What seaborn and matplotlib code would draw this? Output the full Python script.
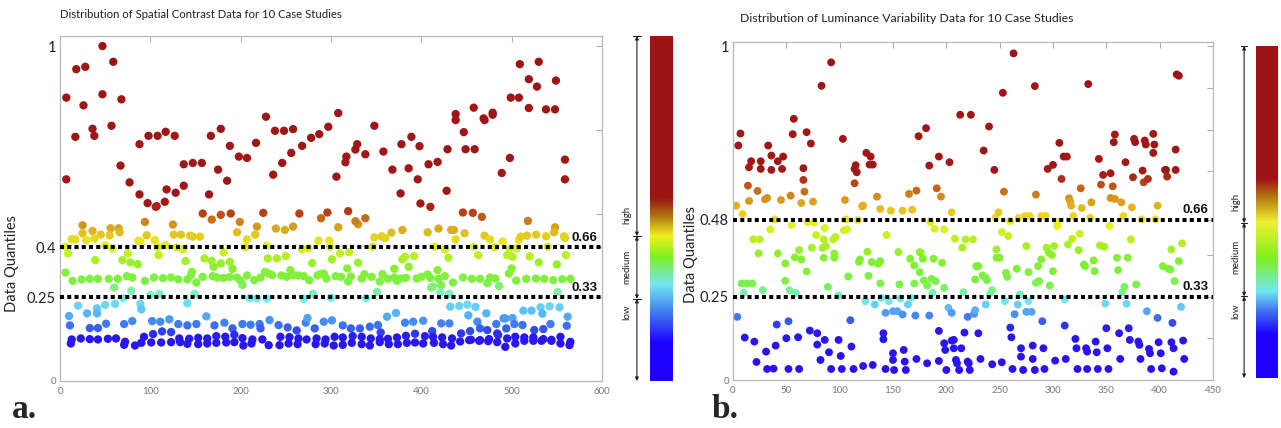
import matplotlib
matplotlib.use("Agg")
import matplotlib.pyplot as plt
import numpy as np
import pandas as pd
import seaborn as sns
from matplotlib.colors import LinearSegmentedColormap

# ---------------- DATA : panel a (Spatial Contrast) ----------------
a_high = [(7,.846),(7,.602),(17,.729),(18,.931),(26,.823),(28,.938),(36,.753),(38,.732),(47,1.0),(47,.856),
          (57,.762),(59,.953),(67,.643),(68,.841),(77,.593),(88,.707),(88,.557),(97,.531),(98,.732),(106,.520),
          (107,.522),(108,.732),(116,.535),(117,.744),(118,.572),(127,.732),(128,.562),(137,.647),(137,.583),
          (147,.651),(157,.651),(165,.557),(167,.732),(175,.631),(178,.753),(185,.598),(188,.702),(198,.670),
          (207,.666),(217,.711),(228,.789),(236,.616),(238,.747),(246,.651),(248,.747),(256,.681),(258,.752),
          (268,.702),(278,.726),(287,.737),(297,.759),(306,.610),(308,.800),(316,.653),(317,.670),(327,.691),
          (329,.707),(338,.677),(348,.762),(358,.685),(368,.631),(377,.560),(378,.707),(386,.635),(389,.729),
          (396,.602),(398,.701),(399,.530),(408,.647),(410,.520),(418,.654),(428,.568),(429,.692),(438,.797),
          (438,.779),(447,.743),(449,.692),(458,.816),(459,.692),(469,.784),(470,.779),(479,.801),(479,.795),
          (489,.621),(498,.666),(499,.846),(508,.846),(509,.946),(519,.901),(519,.815),(528,.879),(530,.953),
          (538,.811),(548,.811),(549,.897),(559,.661),(559,.602)]
a_upper = [(94,.475),(125,.467),(158,.500),(168,.482),(178,.496),(189,.500),(199,.475),(225,.502),(265,.500),
           (289,.486),(296,.503),(319,.507),(330,.468),(338,.486),(446,.503),(457,.502),(467,.490),(518,.478),
           (548,.459),(433,.451),(379,.451),(327,.477),(25,.465),(218,.461),(258,.461),(308,.459),(239,.455),
           (249,.451),(56,.456),(65,.456),(419,.455),
           (13,.423),(17,.423),(25,.441),(29,.421),(36,.448),(38,.425),(45,.437),(55,.435),(66,.444),(87,.419),
           (89,.417),(96,.435),(105,.421),(117,.406),(126,.437),(134,.437),(144,.434),(147,.431),(155,.431),
           (196,.444),(207,.423),(216,.437),(286,.419),(298,.419),(348,.429),(356,.432),(360,.427),(367,.443),
           (407,.444),(436,.451),(438,.423),(448,.441),(470,.434),(476,.423),(490,.417),(508,.421),(510,.431),
           (517,.434),(527,.437),(538,.432),(547,.444),(558,.432),(559,.427),
           (6,.401),(9,.381),(50,.405),(58,.396),(108,.399),(116,.404),(129,.399),(136,.393),(205,.399),
           (229,.404),(268,.393),(275,.396),(299,.401),(346,.401),(415,.401),(426,.393),(458,.401),(481,.399),
           (498,.393),(506,.396),(540,.401),(495,.376),(501,.371)]
a_medium = [(39,.361),(69,.361),(75,.381),(78,.354),(86,.349),(109,.376),(139,.358),(160,.366),(168,.359),
            (170,.341),(178,.351),(181,.384),(188,.356),(191,.335),(230,.366),(240,.366),(250,.373),(279,.352),
            (301,.363),(310,.381),(320,.384),(318,.336),(330,.353),(370,.335),(379,.363),(382,.371),(392,.373),
            (386,.341),(418,.331),(430,.368),(463,.376),(500,.336),(520,.372),(530,.354),(550,.348),(560,.376),
            (6,.324),(14,.299),(24,.303),(33,.305),(42,.305),(54,.305),(64,.305),(74,.313),(80,.309),(94,.299),
            (104,.309),(114,.307),(123,.309),(131,.303),(141,.303),(145,.316),(146,.326),(151,.294),(158,.311),
            (169,.313),(174,.309),(181,.308),(188,.311),(196,.309),(200,.299),(202,.287),(207,.315),(215,.301),
            (222,.309),(227,.326),(231,.321),(235,.316),(245,.315),(251,.311),(255,.331),(258,.316),(264,.315),
            (270,.313),(276,.301),(285,.315),(288,.319),(292,.321),(295,.306),(305,.313),(311,.311),(319,.297),
            (322,.312),(334,.306),(337,.319),(345,.311),(354,.297),(357,.319),(363,.305),(370,.309),(373,.299),
            (377,.306),(383,.308),(395,.306),(400,.311),(407,.318),(410,.308),(413,.282),(419,.305),(422,.286),
            (426,.313),(435,.294),(446,.309),(456,.305),(465,.305),(473,.292),(476,.309),(482,.306),(486,.284),
            (497,.321),(505,.300),(516,.305),(527,.306),(536,.305),(546,.301),(556,.304),(565,.305),
            (60,.279),(79,.269),(100,.257),(110,.260),(149,.260),(280,.260),(411,.279),(421,.264),(431,.260),
            (551,.266)]
a_low = [(10,.194),(20,.225),(30,.202),(41,.217),(41,.202),(50,.227),(61,.230),(70,.247),(89,.230),(90,.214),
         (141,.232),(210,.247),(218,.247),(229,.246),(270,.245),(300,.249),(339,.247),(351,.266),(362,.192),
         (372,.203),(432,.222),(442,.224),(451,.228),(452,.196),(460,.221),(472,.202),(491,.187),(501,.188),
         (513,.210),(522,.210),(532,.220),(534,.201),(542,.223),(553,.220),(562,.192),
         (11,.166),(33,.158),(42,.158),(51,.171),(71,.170),(80,.179),(102,.179),(111,.177),(121,.184),(131,.170),
         (141,.166),(151,.170),(162,.193),(171,.166),(182,.174),(191,.157),(202,.170),(211,.168),(221,.170),
         (222,.157),(232,.182),(242,.167),(252,.160),(262,.151),(272,.174),(274,.188),(282,.157),(292,.177),
         (301,.181),(313,.166),(322,.157),(332,.157),(343,.162),(352,.167),(355,.145),(382,.174),(391,.177),
         (402,.180),(412,.149),(422,.172),(431,.172),(444,.142),(454,.149),(462,.177),(465,.157),(473,.152),
         (483,.170),(484,.142),(493,.187),(494,.157),(503,.170),(512,.167),(525,.152),(535,.155),(543,.170),
         (561,.165),
         (13,.124),(23,.127),(33,.125),(42,.124),(53,.126),(62,.127),(72,.117),(93,.132),(103,.140),(113,.148),
         (123,.146),(132,.127),(143,.126),(153,.129),(163,.127),(173,.134),(183,.132),(193,.138),(202,.128),
         (213,.124),(224,.124),(244,.132),(254,.131),(264,.127),(273,.124),(284,.127),(294,.124),(304,.132),
         (313,.130),(324,.134),(334,.132),(344,.127),(354,.125),(363,.126),(373,.130),(383,.135),(393,.141),
         (404,.134),(413,.132),(423,.130),(434,.127),(455,.123),(465,.122),(475,.125),(485,.137),(495,.127),
         (504,.132),(514,.130),(524,.130),(535,.125),(544,.123),(554,.132),
         (12,.112),(71,.108),(83,.106),(90,.114),(101,.115),(112,.115),(123,.116),(133,.116),(141,.111),
         (153,.110),(163,.112),(173,.114),(184,.115),(193,.116),(203,.106),(212,.112),(231,.107),(243,.107),
         (253,.112),(263,.110),(283,.110),(293,.112),(303,.106),(313,.108),(323,.114),(334,.110),(343,.106),
         (354,.116),(364,.110),(374,.110),(384,.114),(393,.115),(402,.112),(414,.114),(424,.110),(433,.106),
         (443,.118),(453,.122),(464,.120),(474,.119),(484,.116),(493,.102),(504,.112),(514,.120),(524,.120),
         (533,.120),(544,.120),(554,.112),(564,.107),(565,.117)]

# ---------------- DATA : panel b (Luminance Variability) ----------------
b_points = [(3,.522),(4,.189),(5,.702),(7,.738),(9,.497),(10,.261),(8,.289),(11,.127),(14,.582),(13,.289),
    (15,.637),(17,.655),(15,.536),(18,.289),(19,.421),(20,.115),(22,.054),(24,.379),(25,.421),(26,.655),
    (26,.632),(23,.566),(28,.269),(30,.541),(31,.085),(32,.033),(32,.545),(33,.702),(35,.451),(36,.672),
    (36,.629),(38,.034),(40,.103),(39,.481),(41,.166),(42,.379),(42,.655),(45,.539),(46,.632),(47,.669),
    (49,.297),(49,.349),(50,.125),(52,.176),(52,.033),(53,.269),(54,.552),(55,.464),(56,.736),(57,.782),
    (58,.367),(59,.261),(61,.128),(62,.033),(62,.389),(64,.361),(64,.530),(66,.634),(66,.599),(67,.564),
    (69,.742),(69,.325),(70,.473),(72,.148),(73,.708),(74,.396),(75,.534),(76,.471),(78,.434),(79,.140),
    (79,.106),(82,.060),(83,.881),(84,.396),(85,.366),(85,.421),(86,.455),(86,.120),(87,.401),(89,.279),
    (90,.083),(92,.033),(92,.951),(94,.421),(95,.379),(95,.366),(96,.428),(99,.253),(99,.120),(101,.072),
    (102,.033),(103,.722),(104,.448),(105,.539),(106,.481),(107,.451),(108,.310),(110,.179),(111,.100),
    (113,.033),(114,.589),(114,.632),(116,.622),(115,.643),(117,.479),(118,.354),(119,.361),(121,.520),
    (122,.522),(122,.042),(124,.236),(125,.680),(126,.384),(127,.312),(128,.645),(129,.669),(130,.353),
    (131,.645),(131,.045),(133,.226),(135,.549),(136,.348),(138,.289),(138,.356),(138,.512),(139,.246),
    (141,.140),(141,.122),(143,.201),(143,.033),(144,.434),(146,.236),(148,.507),(150,.080),(150,.206),
    (150,.060),(151,.030),(154,.206),(155,.383),(156,.286),(157,.244),(159,.507),(159,.196),(160,.090),
    (161,.055),(162,.030),(164,.226),(165,.557),(166,.363),(167,.246),(168,.510),(170,.289),(170,.343),
    (171,.193),(172,.063),(172,.567),(174,.730),(175,.383),(175,.323),(176,.381),(178,.363),(179,.298),
    (181,.754),(182,.283),(182,.050),(184,.193),(184,.642),(185,.473),(186,.303),(187,.261),(188,.363),
    (189,.453),(190,.296),(191,.574),(193,.669),(193,.147),(193,.057),(195,.549),(196,.351),(198,.451),
    (198,.276),(198,.110),(199,.090),(200,.030),(202,.216),(203,.652),(205,.502),(205,.118),(205,.201),
    (207,.095),(207,.120),(208,.423),(209,.060),(210,.050),(212,.030),(213,.794),(214,.095),(215,.396),
    (216,.263),(217,.142),(218,.421),(220,.189),(220,.055),(221,.050),(222,.030),(223,.794),(225,.421),
    (226,.198),(227,.301),(227,.209),(228,.341),(230,.341),(230,.140),(232,.063),(234,.313),(235,.687),
    (237,.306),(237,.226),(238,.299),(240,.759),(241,.259),(243,.047),(243,.269),(245,.629),(246,.486),
    (247,.366),(247,.391),(249,.502),(250,.366),(252,.443),(252,.053),(253,.860),(254,.564),(255,.236),
    (256,.321),(257,.309),(258,.431),(260,.476),(261,.128),(260,.157),(262,.033),(263,.978),(264,.197),
    (266,.333),(267,.226),(268,.486),(269,.256),(270,.095),(270,.070),(272,.030),(274,.491),(275,.204),
    (275,.401),(277,.323),(277,.236),(278,.491),(280,.204),(281,.103),(281,.063),(283,.880),(283,.030),
    (284,.555),(284,.291),(286,.341),(287,.296),(289,.491),(289,.361),(290,.176),(291,.095),(292,.033),
    (293,.491),(294,.396),(295,.632),(296,.381),(297,.283),(299,.374),(300,.326),(300,.644),(301,.401),
    (302,.058),(304,.473),(304,.461),(306,.710),(308,.602),(310,.669),(311,.241),(311,.163),(312,.063),
    (313,.669),(314,.406),(315,.544),(316,.535),(317,.522),(318,.423),(319,.491),(321,.123),(322,.095),
    (323,.033),(324,.389),(325,.438),(326,.574),(327,.515),(329,.346),(330,.341),(331,.095),(332,.085),
    (332,.033),(333,.886),(335,.486),(336,.532),(338,.358),(339,.326),(340,.115),(341,.083),(342,.033),
    (343,.662),(344,.403),(345,.585),(347,.614),(348,.399),(349,.229),(350,.155),(351,.095),(352,.033),
    (353,.461),(354,.545),(354,.619),(356,.580),(357,.712),(358,.735),(358,.542),(360,.366),(361,.329),
    (362,.140),(363,.063),(364,.532),(365,.263),(366,.491),(367,.279),(368,.652),(369,.228),(370,.366),
    (371,.155),(372,.120),(373,.421),(374,.517),(375,.607),(376,.722),(377,.712),(378,.286),(380,.115),
    (381,.105),(382,.063),(383,.481),(384,.627),(385,.592),(386,.717),(387,.705),(388,.206),(389,.602),
    (390,.093),(391,.080),(392,.033),(394,.680),(394,.737),(395,.705),(396,.481),(398,.186),(398,.522),
    (399,.113),(401,.080),(402,.035),(403,.341),(405,.629),(406,.629),(407,.609),(408,.333),(410,.331),
    (411,.391),(411,.113),(412,.171),(413,.095),(413,.025),(414,.296),(415,.629),(415,.690),(416,.915),
    (418,.911),(418,.356),(420,.219),(421,.409),(422,.118),(423,.063)]

# thresholds, ticks, texts
a_thresholds = [0.25, 0.40]
b_thresholds = [0.25, 0.48]
threshold_labels = ["0.33", "0.66"]
a_yticks, a_yticklabels = [0, 0.25, 0.4, 1], ["0", "0.25", "0.4", "1"]
b_yticks, b_yticklabels = [0, 0.25, 0.48, 1], ["0", "0.25", "0.48", "1"]
a_title = "Distribution of Spatial Contrast Data for 10 Case Studies"
b_title = "Distribution of Luminance Variability Data for 10 Case Studies"
class_labels = ["low", "medium", "high"]

# ---------------- STYLE ----------------
sns.set_style("white")
plt.rcParams["font.family"] = ["Lato", "DejaVu Sans"]

a_cmap = LinearSegmentedColormap.from_list("a_pts", [
    (0.00, "#2810f0"), (0.13, "#2818f0"), (0.16, "#3868f0"), (0.19, "#50a8f8"), (0.22, "#66d0f8"),
    (0.245, "#72eef0"), (0.27, "#80f0a0"), (0.29, "#7cf048"), (0.34, "#88f030"), (0.38, "#c0f020"),
    (0.41, "#eaf020"), (0.44, "#e0c020"), (0.47, "#d0901c"), (0.50, "#b84418"), (0.53, "#a01818"),
    (1.00, "#9c1414")])
b_cmap = LinearSegmentedColormap.from_list("b_pts", [
    (0.00, "#2810f0"), (0.15, "#2818f0"), (0.185, "#3e70f0"), (0.21, "#5cb4f8"), (0.235, "#72e6f4"),
    (0.26, "#78f0b0"), (0.28, "#7cf050"), (0.36, "#80f030"), (0.42, "#b8f020"), (0.47, "#eaf020"),
    (0.51, "#e8c020"), (0.55, "#d08a1c"), (0.59, "#b84418"), (0.62, "#a01818"), (1.00, "#9c1414")])
a_bar = LinearSegmentedColormap.from_list("a_bar", [
    (0.00, "#1c00ff"), (0.11, "#1c00ff"), (0.20, "#4080f0"), (0.28, "#70e8f0"), (0.36, "#80f020"),
    (0.42, "#f0f020"), (0.48, "#b07010"), (0.53, "#9e1414"), (1.00, "#9e1414")])
b_bar = LinearSegmentedColormap.from_list("b_bar", [
    (0.00, "#1c00ff"), (0.13, "#1c00ff"), (0.20, "#4070f0"), (0.26, "#70e8f0"), (0.36, "#80f020"),
    (0.47, "#f0f030"), (0.55, "#b07010"), (0.60, "#9e1414"), (1.00, "#9e1414")])

W, H = 1281, 428
fig = plt.figure(figsize=(W / 100, H / 100), dpi=100)


def rect(x0, y0, x1, y1):
    return [x0 / W, 1 - y1 / H, (x1 - x0) / W, (y1 - y0) / H]


def to_df(*groups):
    rows = [p for g in groups for p in g]
    return pd.DataFrame(rows, columns=["x", "q"])


def panel(ax, df, cmap, xmax, xstep, ytop, yticks, yticklabels, minor, thresholds, label_coords, ms):
    sns.scatterplot(data=df, x="x", y="q", hue="q", palette=cmap, hue_norm=(0, 1), s=ms,
                    linewidth=0, legend=False, ax=ax, zorder=2)
    for t, lab in zip(thresholds, threshold_labels):
        ax.axhline(t, color="black", lw=2.9, ls=(0, (1.0, 0.8)), zorder=3)
        ax.annotate(lab, xy=(1, t), xycoords=("axes fraction", "data"), xytext=(-3, 2.5),
                    textcoords="offset points", ha="right", va="bottom", fontsize=9.5,
                    fontweight="bold", family=["Liberation Sans", "DejaVu Sans"], color="#111111")
    ax.set_xlim(0, xmax)
    ax.set_ylim(0, ytop)
    ax.set_xticks(np.arange(0, xmax + 1, xstep))
    ax.set_yticks(yticks)
    ax.set_yticklabels(yticklabels)
    ax.set_yticks(minor, minor=True)
    ax.tick_params(axis="both", which="both", direction="in", length=4, width=0.8, color="#b0b0b0",
                   top=True, right=True)
    ax.tick_params(axis="x", labelsize=7, labelcolor="#777777", pad=4)
    ax.tick_params(axis="y", labelsize=10.5, labelcolor="#222222", pad=3)
    ylabs = ax.get_yticklabels()
    ylabs[0].set_fontsize(7)
    ylabs[0].set_color("#777777")
    for sp in ax.spines.values():
        sp.set_color("#b8b8b8")
        sp.set_linewidth(0.9)
    ax.set_xlabel("")
    ax.set_ylabel("Data Quantiles", fontsize=10.5, color="#222222")
    ax.yaxis.set_label_coords(*label_coords)


def colorbar(cax, cmap):
    grad = np.linspace(0, 1, 256).reshape(-1, 1)
    cax.imshow(grad, cmap=cmap, aspect="auto", origin="lower", extent=(0, 1, 0, 1))
    cax.set_axis_off()


def arrows(aax, divs, xline, label_ys, xtext):
    aax.set_xlim(0, 1)
    aax.set_ylim(0, 1)
    aax.set_axis_off()
    stops = [0.0] + divs + [1.0]
    for lo, hi in zip(stops[:-1], stops[1:]):
        aax.annotate("", xy=(xline, hi), xytext=(xline, lo),
                     arrowprops=dict(arrowstyle="<|-|>", color="#222222", lw=0.8,
                                     mutation_scale=5, shrinkA=0, shrinkB=0))
    for s in stops:
        aax.plot([xline - 0.12, xline + 0.12], [s, s], color="#222222", lw=0.8)
    for lab, yy in zip(class_labels, label_ys):
        aax.text(xtext, yy, lab, rotation=90, ha="center", va="center", fontsize=7, color="#222222")


# panel a
axA = fig.add_axes(rect(60, 36, 602, 381))
panel(axA, to_df(a_high, a_upper, a_medium, a_low), a_cmap, 600, 100, 1.03,
      a_yticks, a_yticklabels, [0.5, 0.75], a_thresholds, (-0.075, 0.34), 36)
fig.text(60 / W, 1 - 14 / H, a_title, fontsize=8.2, ha="left", va="center", color="#222222")
cA = fig.add_axes(rect(650, 36, 673, 381))
colorbar(cA, a_bar)
arA = fig.add_axes(rect(618, 36, 648, 381))
arrows(arA, [0.238, 0.420], 0.63, [0.20, 0.33, 0.48], 0.30)

# panel b
axB = fig.add_axes(rect(733, 42, 1213, 380))
panel(axB, to_df(b_points), b_cmap, 450, 50, 1.012,
      b_yticks, b_yticklabels, [0.125, 0.375, 0.625, 0.75, 0.875], b_thresholds, (-0.073, 0.37), 32)
fig.text(740 / W, 1 - 18 / H, b_title, fontsize=8.8, ha="left", va="center", color="#222222")
cB = fig.add_axes(rect(1256, 46, 1278, 378))
colorbar(cB, b_bar)
arB = fig.add_axes(rect(1228, 46, 1254, 378))
arrows(arB, [0.246, 0.467], 0.62, [0.20, 0.365, 0.53], 0.30)

# panel letters
fig.text(12 / W, 1 - 410 / H, "a.", fontsize=24, fontweight="bold", ha="left", va="center",
         family=["Liberation Serif", "DejaVu Serif"])
fig.text(712 / W, 1 - 410 / H, "b.", fontsize=24, fontweight="bold", ha="left", va="center",
         family=["Liberation Serif", "DejaVu Serif"])

fig.savefig("out.png", dpi=100)
